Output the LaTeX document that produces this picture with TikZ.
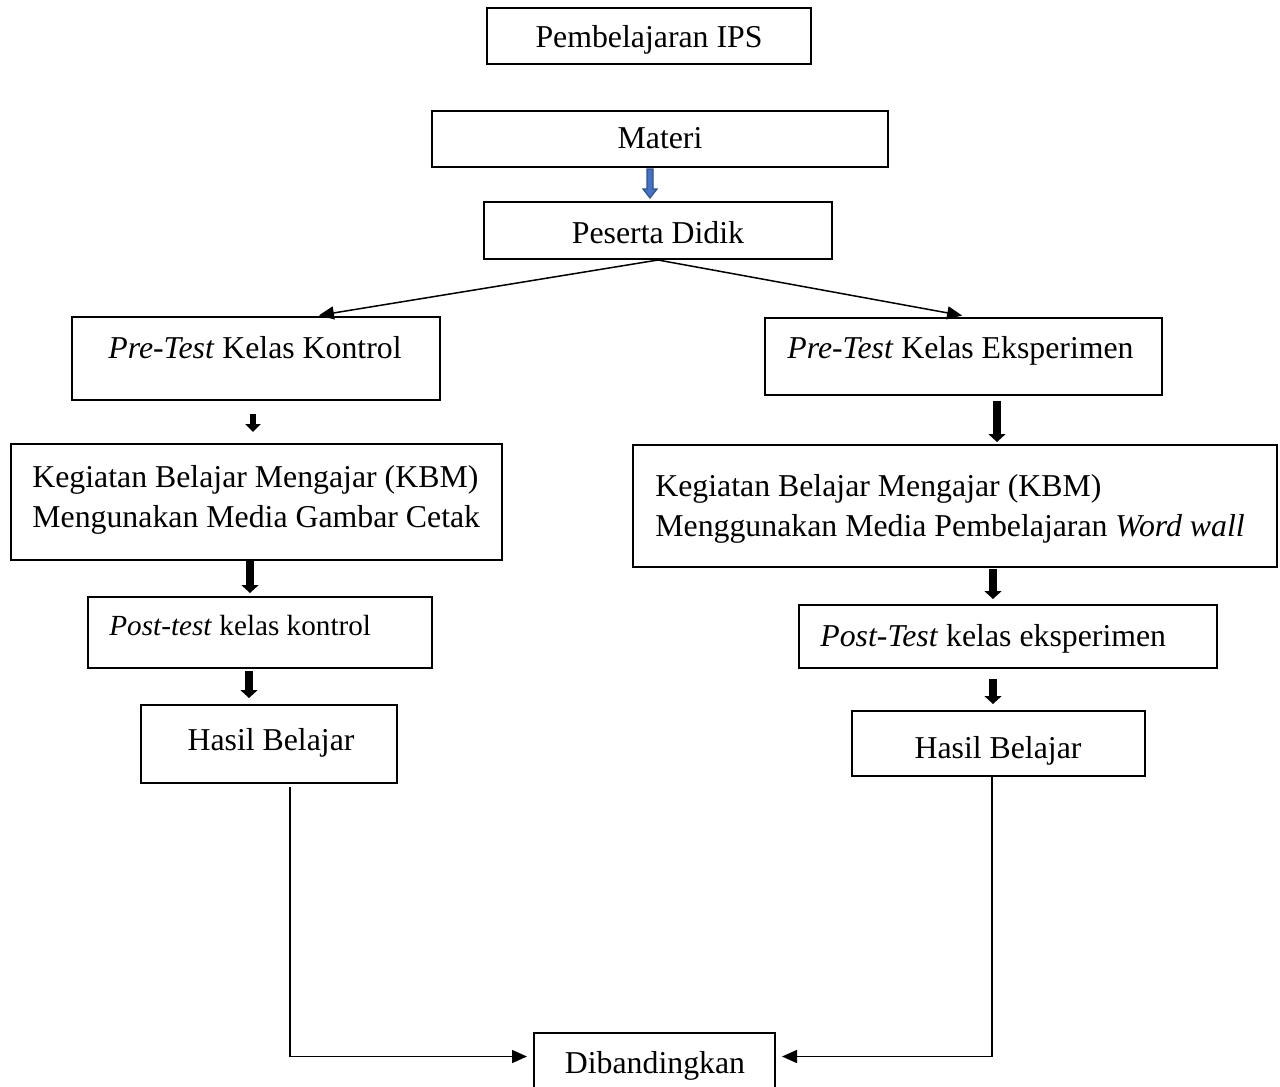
\documentclass[tikz,border=0pt]{standalone}
\usepackage{fontspec}
\setmainfont{Liberation Serif}
\usetikzlibrary{arrows.meta}
\tikzset{
  bx/.style={draw, line width=1pt, inner sep=0pt, rectangle},
  txt/.style={inner sep=0pt, font=\fontsize{15.9pt}{20pt}\selectfont},
  txtsm/.style={inner sep=0pt, font=\fontsize{14.6pt}{18pt}\selectfont},
  thinarr/.style={line width=0.75pt, -{Triangle[width=6.5pt,length=7.5pt]}},
  blkA/.style={line width=3pt, -{Triangle[width=7.5pt,length=4pt]}},
  blkB/.style={line width=4pt, -{Triangle[width=8.5pt,length=4pt]}},
  bluearr/.style={line width=0.6pt, draw={rgb,255:red,47;green,82;blue,143}, fill={rgb,255:red,68;green,114;blue,196}},
}
\newcommand\mybx[5]{\node[bx, minimum width={(#4-#2)*0.5pt}, minimum height={(#5-#3)*0.5pt}] (#1) at ({(#2+#4)/2},{(#3+#5)/2}) {};}
\begin{document}
\begin{tikzpicture}[x=0.5pt, y=-0.5pt]
\useasboundingbox[fill=white] (0,0) rectangle (1280,1087);
% boxes
\mybx{pips}{487}{8}{811}{64}
\mybx{mat}{432}{111}{888}{167}
\mybx{pd}{484}{202}{832}{259}
\mybx{pk}{72}{317}{440}{400}
\mybx{pe}{765}{318}{1162}{395}
\mybx{kbl}{11}{444}{502}{560}
\mybx{kbr}{633}{445}{1277}{567}
\mybx{pok}{88}{597}{432}{668}
\mybx{poe}{799}{605}{1217}{668}
\mybx{hl}{141}{705}{397}{783}
\mybx{hr}{852}{711}{1145}{776}
\mybx{dib}{534}{1033}{775}{1094}
% texts
\node[txt, anchor=base] (tpips) at (649,47) {Pembelajaran IPS};
\node[txt, anchor=base] (tmat) at (660,148) {Materi};
\node[txt, anchor=base] (tpd) at (658,243) {Peserta Didik};
\node[txt, anchor=base west] (tpk) at (108,358) {\textit{Pre-Test} Kelas Kontrol};
\node[txt, anchor=base west] (tpe) at (787,358) {\textit{Pre-Test} Kelas Eksperimen};
\node[txt, anchor=base west] (tkbl1) at (32,487) {Kegiatan Belajar Mengajar (KBM)};
\node[txt, anchor=base west] (tkbl2) at (32,527) {Mengunakan Media Gambar Cetak};
\node[txt, anchor=base west] (tkbr1) at (655,496) {Kegiatan Belajar Mengajar (KBM)};
\node[txt, anchor=base west] (tkbr2) at (655,536) {Menggunakan Media Pembelajaran \textit{Word wall}};
\node[txtsm, anchor=base west] (tpok) at (109,635) {\textit{Post-test} kelas kontrol};
\node[txt, anchor=base west] (tpoe) at (820,646) {\textit{Post-Test} kelas eksperimen};
\node[txt, anchor=base] (thl) at (271,750) {Hasil Belajar};
\node[txt, anchor=base] (thr) at (998,758) {Hasil Belajar};
\node[txt, anchor=base] (tdib) at (655,1073) {Dibandingkan};
% blue block arrow Materi -> Peserta Didik
\coordinate (ma) at (650,0 |- mat.south);
\draw[bluearr] (ma) ++(-3,1) -- ++(0,20) -- ++(-4,0) -- ++(7,9) -- ++(7,-9) -- ++(-4,0) -- ++(0,-20) -- cycle;
% fan arrows
\draw[thinarr, shorten >=2pt] (pd.south) -- (315,0 |- pk.north);
\draw[thinarr, shorten >=4pt] (pd.south) -- (970,0 |- pe.north);
% block arrows
\draw[blkA, shorten <=6.5pt, shorten >=5.5pt] (253,0 |- pk.south) -- (253,0 |- kbl.north);
\draw[blkB, shorten <=2.5pt, shorten >=1pt] (997,0 |- pe.south) -- (997,0 |- kbr.north);
\draw[blkB, shorten <=0pt, shorten >=1.5pt] (250,0 |- kbl.south) -- (250,0 |- pok.north);
\draw[blkB, shorten <=0.5pt, shorten >=2.5pt] (993,0 |- kbr.south) -- (993,0 |- poe.north);
\draw[blkB, shorten <=1pt, shorten >=3pt] (249,0 |- pok.south) -- (249,0 |- hl.north);
\draw[blkB, shorten <=5pt, shorten >=3pt] (993,0 |- poe.south) -- (993,0 |- hr.north);
% elbow arrows to Dibandingkan
\draw[thinarr, shorten >=3pt] ([yshift=-1.5pt]hl.south -| 290,0) |- ([yshift=3.5pt]dib.west);
\draw[thinarr, shorten >=3pt] (hr.south -| 992,0) |- ([yshift=3.5pt]dib.east);
\end{tikzpicture}
\end{document}
